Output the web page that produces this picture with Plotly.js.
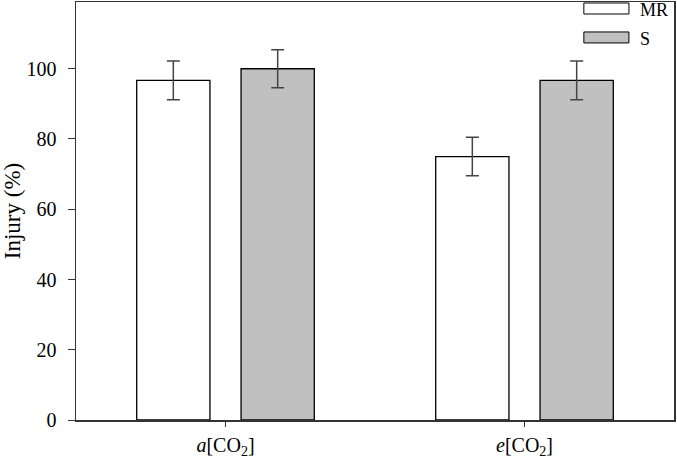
<!DOCTYPE html>
<html>
<head>
<meta charset="utf-8">
<script src="https://cdn.plot.ly/plotly-3.0.1.min.js"></script>
<style>
  html, body { margin: 0; padding: 0; background: #fff; }
  #chart { width: 677px; height: 459px; }
</style>
</head>
<body>
<div id="chart"></div>
<script>
/* ===== Data ===== */
const categories = ["<i>a</i>[CO<sub>2</sub>]", "<i>e</i>[CO<sub>2</sub>]"];
const seriesNames = ["MR", "S"];
const mrValues = [96.7, 75.0];
const mrErrors = [5.5, 5.5];
const sValues = [100.0, 96.7];
const sErrors = [5.4, 5.5];
const yTicks = [0, 20, 40, 60, 80, 100];

const fillColors = ["#ffffff", "#c0c0c0"];
const font = "Liberation Serif";

// category positions 0,1 so bars can be offset by hand
const xPos = categories.map((c, i) => i);

function barTrace(name, vals, errs, fill, offset) {
    return {
        type: "bar",
        name: name,
        x: xPos,
        y: vals,
        width: 0.245,
        offset: offset,
        marker: { color: fill, line: { color: "#000", width: 1.3 } },
        error_y: { type: "data", array: errs, visible: true, color: "#444", thickness: 1.5, width: 6.5 },
        showlegend: false,
        hoverinfo: "y"
    };
}

const traces = [
    barTrace(seriesNames[0], mrValues, mrErrors, fillColors[0], -0.297),
    barTrace(seriesNames[1], sValues, sErrors, fillColors[1], 0.052)
];

/* ===== Legend (drawn by hand, wide swatches) ===== */
const legendShapes = [];
const legendText = [];
seriesNames.forEach((n, i) => {
    const top = 1 - (1 + i * 29) / 418.5;
    legendShapes.push({
        type: "rect", xref: "paper", yref: "paper",
        x0: (583 - 76) / 597, x1: (628 - 76) / 597,
        y0: top - 11 / 418.5, y1: top,
        fillcolor: fillColors[i], line: { color: "#000", width: 1 }
    });
    legendText.push({
        xref: "paper", yref: "paper",
        x: (637 - 76) / 597, y: top - 7 / 418.5,
        xanchor: "left", yanchor: "middle",
        text: n, showarrow: false,
        font: { family: font, size: 18, color: "#000" }
    });
});

const layout = {
    width: 677, height: 459,
    margin: { l: 76, r: 3, t: 2, b: 38.5 },
    paper_bgcolor: "#fff", plot_bgcolor: "#fff",
    font: { family: font, size: 20, color: "#000" },
    barmode: "overlay",
    xaxis: {
        range: [-0.5, 1.5],
        tickvals: xPos,
        ticktext: categories,
        ticks: "outside", ticklen: 5, tickwidth: 1, tickcolor: "#333",
        ticklabelstandoff: 1,
        showline: true, linecolor: "#333", linewidth: 1.5, mirror: true,
        showgrid: false, zeroline: false,
        tickfont: { family: font, size: 20, color: "#000" }
    },
    yaxis: {
        range: [0, 119],
        tickvals: yTicks,
        ticks: "outside", ticklen: 7, tickwidth: 1, tickcolor: "#333",
        ticklabelstandoff: 7,
        showline: true, linecolor: "#333", linewidth: 1.5, mirror: true,
        showgrid: false, zeroline: false,
        tickfont: { family: font, size: 20, color: "#000" },
        title: { text: "Injury (%)", font: { family: font, size: 23, color: "#000" }, standoff: 12 }
    },
    shapes: legendShapes,
    annotations: legendText
};

Plotly.newPlot("chart", traces, layout, { displayModeBar: false, staticPlot: true });
</script>
</body>
</html>
